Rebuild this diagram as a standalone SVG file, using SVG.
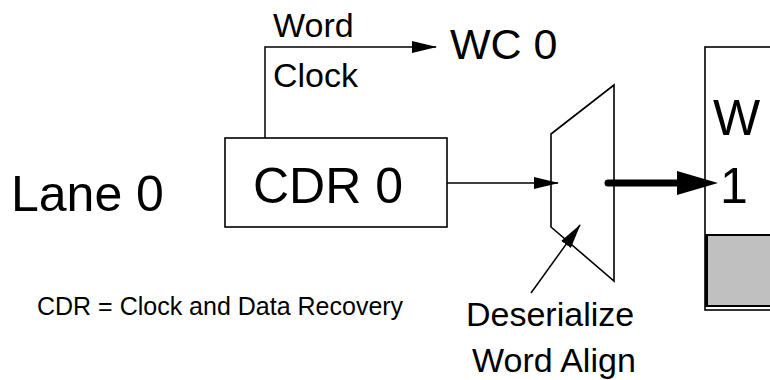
<svg xmlns="http://www.w3.org/2000/svg" width="770" height="380" viewBox="0 0 770 380">
  <style>
    text { font-family: "Liberation Sans", Arial, sans-serif; fill: #000; }
    .box { fill: #fff; stroke: #000; stroke-width: 1.6; }
    .wire { fill: none; stroke: #000; stroke-width: 1.5; }
    .big { font-size: 50px; }
    .mid { font-size: 34px; }
    .small { font-size: 25px; }
  </style>
  <defs>
    <marker id="arrow" markerUnits="userSpaceOnUse" markerWidth="26" markerHeight="13" refX="24" refY="6" orient="auto">
      <path d="M0,0 L25,6 L0,12 z" fill="#000"/>
    </marker>
  </defs>

  <rect width="770" height="380" fill="#fff"/>

  <!-- free-standing labels -->
  <text class="big" x="11" y="211">Lane 0</text>
  <text class="small" x="37" y="315">CDR = Clock and Data Recovery</text>

  <!-- clock and data recovery block -->
  <g id="cdr0">
    <rect class="box" x="225" y="138" width="222" height="89"/>
    <text class="big" x="253" y="203">CDR 0</text>
  </g>

  <!-- word clock output label -->
  <g id="wc0">
    <text x="450" y="59" font-size="43">WC 0</text>
  </g>

  <!-- deserializer / word aligner -->
  <g id="deserializer">
    <polygon class="box" points="551,134 614,85 614,281 551,227"/>
    <text class="mid" x="466" y="326">Deserialize</text>
    <text class="mid" x="472" y="372">Word Align</text>
  </g>

  <!-- downstream block, clipped at the right edge -->
  <g id="word-block">
    <rect class="box" x="705" y="47" width="90" height="263"/>
    <rect x="707" y="235" width="80" height="71" fill="#c0c0c0" stroke="#000" stroke-width="2"/>
    <line x1="706.5" y1="234" x2="706.5" y2="307" stroke="#000" stroke-width="3"/>
    <text class="big" x="713" y="135">W</text>
    <text class="big" x="720" y="203">1</text>
  </g>

  <g id="connectors">
    <!-- word clock -->
    <polyline class="wire" points="265,138 265,47 436,47" marker-end="url(#arrow)"/>
    <text class="mid" x="273" y="37">Word</text>
    <text class="mid" x="273" y="87">Clock</text>
    <!-- serial data into deserializer -->
    <line class="wire" x1="447" y1="183" x2="558" y2="183" marker-end="url(#arrow)"/>
    <!-- parallel word out -->
    <line x1="608" y1="183" x2="685" y2="183" stroke="#000" stroke-width="7" stroke-linecap="round"/>
    <polygon points="677,171 718,183 677,195" fill="#000"/>
    <!-- label pointer -->
    <line class="wire" x1="531" y1="293" x2="580" y2="225" marker-end="url(#arrow)"/>
  </g>
</svg>
